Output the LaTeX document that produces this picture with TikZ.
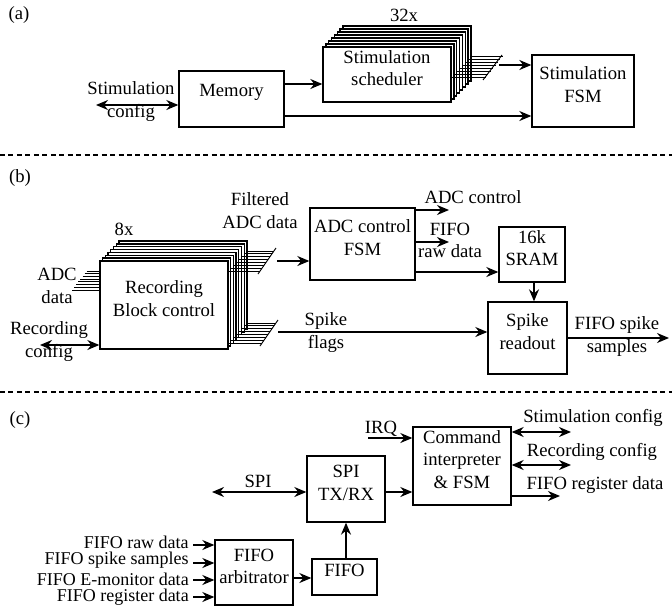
\documentclass[tikz,border=0pt]{standalone}
\usepackage{fontspec}
\setmainfont{Liberation Serif}
\usepackage{tikz}
\usetikzlibrary{arrows.meta, fit, calc}
\tikzstyle{blk} = [draw, fill=white, line width=1pt, inner sep=0pt, align=center]
\tikzstyle{layer} = [draw, fill=white, line width=1pt]
\tikzstyle{lbl} = [inner sep=0pt, align=center]
\tikzstyle{arrow} = [line width=1pt, -{Stealth[length=9pt, width=7.5pt]}]
\tikzstyle{biarrow} = [line width=1pt, {Stealth[length=9pt, width=7.5pt]}-{Stealth[length=9pt, width=7.5pt]}]
\tikzstyle{bus} = [line width=0.7pt]
\tikzstyle{sep} = [line width=0.8pt, dash pattern=on 3.75pt off 2.6pt]

\begin{document}
\begin{tikzpicture}[x=0.75pt, y=-0.75pt, font=\fontsize{14}{17}\selectfont]
    \useasboundingbox (0,0) rectangle (672,607);

    % (a) stimulation
    \node[lbl] (tagA) at (19,15) {(a)};
    \node[blk, fit={(179,71) (284,127)}] (mem) {Memory};
    \foreach \i in {7,...,1}
        \draw[layer] (323+2.85*\i,47-3*\i) rectangle (451+2.85*\i,102-3*\i);
    \node[blk, fit={(323,47) (451,102)}] (sched) {Stimulation\\scheduler};
    \node[lbl] (nsched) at (404,15) {32x};
    \node[blk, fit={(532,55) (634,127)}] (stimfsm) {Stimulation\\FSM};

    \coordinate (stimcfg) at (96,105);
    \draw[biarrow] (stimcfg) -- (mem.west |- stimcfg);
    \node[lbl] (stimcfgtxt) at (131,101.5) {Stimulation\\config};
    \draw[arrow] (mem.east |- 0,84) -- (sched.west |- 0,84);
    \draw[arrow] (mem.east |- 0,116) -- (stimfsm.west |- 0,116);

    % 32 scheduler outputs merged into one bus
    \foreach \i in {0,...,7}
        \draw[bus] (451+2.85*\i,77-3*\i) -- (486+2.4*\i,77-3*\i);
    \draw[bus] (483,80) -- (502,55);
    \coordinate (schout) at (499,65);
    \draw[arrow] (schout) -- (stimfsm.west |- schout);

    \draw[sep] (0,155) -- (672,155);

    % (b) recording
    \node[lbl] (tagB) at (20,178) {(b)};
    \foreach \i in {0,...,7}
        \draw[bus] (72+2.1*\i,290-2.7*\i) -- (100+2.7*\i,290-2.7*\i);
    \foreach \i in {7,...,1}
        \draw[layer] (100+2.7*\i,261-2.85*\i) rectangle (228+2.7*\i,349-2.85*\i);
    \node[blk, fit={(100,261) (228,349)}] (rec) {Recording\\Block control};
    \node[lbl] (nrec) at (124,229) {8x};
    \node[lbl] (adcin) at (57,286) {ADC\\data};

    \coordinate (reccfg) at (40,345);
    \draw[biarrow] (reccfg) -- (rec.west |- reccfg);
    \node[lbl] (reccfgtxt) at (49,341.5) {Recording\\config};

    % filtered data bus and spike flag bus
    \foreach \i in {0,...,7} {
        \draw[bus] (228+2.7*\i,271-2.85*\i) -- (260+2*\i,271-2.85*\i);
        \draw[bus] (228+2.7*\i,343-2.85*\i) -- (262+2*\i,343-2.85*\i);
    }
    \draw[bus] (258,274) -- (276,248);
    \draw[bus] (260,346) -- (278,320);

    \node[blk, fit={(310,208) (415,280)}] (adcfsm) {ADC control\\FSM};
    \coordinate (recout) at (277,261);
    \draw[arrow] (recout) -- (adcfsm.west |- recout);
    \node[lbl] (filt) at (260,210.5) {Filtered\\ADC data};

    \coordinate (adcctl) at (449,210);
    \draw[arrow] (adcfsm.east |- adcctl) -- (adcctl);
    \node[lbl] (adcctltxt) at (473,197) {ADC control};
    \coordinate (rawout) at (449,242);
    \draw[arrow] (adcfsm.east |- rawout) -- (rawout);
    \node[lbl] (rawtxt) at (450,240.5) {FIFO\\raw data};

    \node[blk, fit={(499,227) (565,282)}] (sram) {16k\\SRAM};
    \draw[arrow] (adcfsm.east |- 0,272) -- (sram.west |- 0,272);
    \node[blk, fit={(488,302) (567,374)}] (spk) {Spike\\readout};
    \draw[arrow] (sram.south -| 534,0) -- (spk.north -| 534,0);

    \coordinate (spkflag) at (278,332);
    \draw[arrow] (spkflag) -- (spk.west |- spkflag);
    \node[lbl] (flagtxt) at (326,332.5) {Spike\\flags};
    \coordinate (spkout) at (669,338);
    \draw[arrow] (spk.east |- spkout) -- (spkout);
    \node[lbl] (spkouttxt) at (617,336.5) {FIFO spike\\samples};

    \draw[sep] (0,392) -- (672,392);

    % (c) interface
    \node[lbl] (tagC) at (20,420) {(c)};
    \node[blk, fit={(413,427) (511,505)}] (cmd) {Command\\interpreter\\\& FSM};
    \node[blk, fit={(307,456) (385,522)}] (spi) {SPI\\TX/RX};
    \node[blk, fit={(215,540) (293,605)}] (arb) {FIFO\\arbitrator};
    \node[blk, fit={(312,559) (377,595)}] (fifo) {FIFO};

    \coordinate (irq) at (368,438);
    \draw[arrow] (irq) -- (cmd.west |- irq);
    \node[lbl] (irqtxt) at (381,429) {IRQ};
    \coordinate (spiext) at (212,492);
    \draw[biarrow] (spiext) -- (spi.west |- spiext);
    \node[lbl] (spitxt) at (258,481) {SPI};
    \draw[arrow] (spi.east |- 0,492) -- (cmd.west |- 0,492);
    \draw[arrow] (fifo.north -| spi.south) -- (spi.south);
    \draw[arrow] (arb.east |- 0,578) -- (fifo.west |- 0,578);

    \coordinate (stimcfgo) at (571,432);
    \draw[biarrow] (cmd.east |- stimcfgo) -- (stimcfgo);
    \node[lbl] (stimcfgotxt) at (593,418) {Stimulation config};
    \coordinate (reccfgo) at (571,465);
    \draw[biarrow] (cmd.east |- reccfgo) -- (reccfgo);
    \node[lbl] (reccfgotxt) at (592,452) {Recording config};
    \coordinate (regout) at (560,496);
    \draw[arrow] (cmd.east |- regout) -- (regout);
    \node[lbl] (regouttxt) at (595,485) {FIFO register data};

    % arbitrator inputs
    \foreach \y/\ty/\t [count=\k] in {545/542/FIFO raw data, 563/560.5/FIFO spike samples,
                                     580/579/FIFO E-monitor data, 597/597.5/FIFO register data} {
        \coordinate (in\k) at (193,\y);
        \draw[arrow] (in\k) -- (arb.west |- in\k);
        \node[lbl, anchor=east, font=\fontsize{13.5}{16}\selectfont] (intxt\k) at (189,\ty) {\t};
    }
\end{tikzpicture}
\end{document}
